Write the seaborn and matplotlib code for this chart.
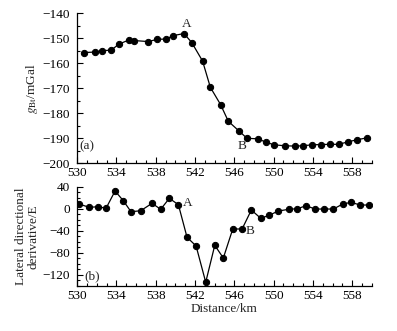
import matplotlib
matplotlib.use("Agg")
import matplotlib.pyplot as plt
import numpy as np
import pandas as pd
import seaborn as sns
from matplotlib.ticker import MultipleLocator

# Profile (a): Bouguer gravity anomaly
dist_a = [530.71, 531.80, 532.51, 533.49, 534.27, 535.26, 535.80, 537.25,
          538.17, 539.05, 539.80, 540.88, 541.67, 542.77, 543.56, 544.60,
          545.39, 546.51, 547.29, 548.38, 549.26, 550.04, 551.19, 552.18,
          552.96, 553.88, 554.79, 555.77, 556.62, 557.57, 558.45, 559.50]
grav_a = [-155.7, -155.5, -155.0, -154.7, -152.3, -150.7, -150.9, -151.3,
          -150.4, -150.3, -148.9, -148.1, -151.7, -159.1, -169.6, -176.5,
          -183.2, -187.2, -190.0, -190.2, -191.6, -192.6, -193.0, -193.1,
          -193.0, -192.6, -192.5, -192.4, -192.4, -191.4, -190.6, -189.8]

# Profile (b): lateral directional derivative
dist_b = [530.20, 531.25, 532.17, 532.95, 533.87, 534.71, 535.49, 536.48,
          537.63, 538.51, 539.39, 540.31, 541.19, 542.11, 543.09, 544.01,
          544.88, 545.84, 546.79, 547.73, 548.69, 549.53, 550.48, 551.54,
          552.41, 553.30, 554.21, 555.13, 556.07, 557.03, 557.87, 558.79,
          559.70]
deriv_b = [8.7, 2.7, 3.8, 0.9, 32.4, 14.7, -5.3, -3.5,
           10.0, -0.9, 19.1, 7.5, -51.8, -67.6, -133.5, -66.4,
           -89.5, -36.7, -36.7, -2.2, -17.3, -11.8, -4.0, -0.9,
           0.2, 5.6, -0.4, -0.4, -0.4, 8.7, 11.8, 6.9, 6.9]

x_ticks = [530, 534, 538, 542, 546, 550, 554, 558]

sns.set_style("ticks")
plt.rcParams["font.family"] = ["Liberation Serif", "DejaVu Serif"]
plt.rcParams["mathtext.fontset"] = "stix"
plt.rcParams["font.size"] = 9.5

fig = plt.figure(figsize=(3.97, 3.31), dpi=100)
ax1 = fig.add_axes([0.194, 0.5066, 0.743, 0.4532])
ax2 = fig.add_axes([0.194, 0.1366, 0.743, 0.299])

df_a = pd.DataFrame({"dist": dist_a, "val": grav_a})
df_b = pd.DataFrame({"dist": dist_b, "val": deriv_b})

for ax, df in [(ax1, df_a), (ax2, df_b)]:
    sns.lineplot(data=df, x="dist", y="val", ax=ax, color="black",
                 marker="o", markersize=4.5, markeredgecolor="black",
                 linewidth=0.9, sort=False)
    ax.set_xlim(530, 560)
    ax.set_xticks(x_ticks)
    ax.xaxis.set_minor_locator(MultipleLocator(1))
    ax.tick_params(which="both", direction="in", labelsize=9.5, width=0.8,
                   colors="black")
    ax.tick_params(axis="x", pad=3)
    ax.tick_params(axis="y", pad=5)
    ax.tick_params(which="major", length=4)
    ax.tick_params(which="minor", length=2)
    sns.despine(ax=ax)
    for s in ["left", "bottom"]:
        ax.spines[s].set_linewidth(0.9)
        ax.spines[s].set_color("black")
    ax.set_xlabel("")

ax1.set_ylim(-200, -140)
ax1.set_yticks([-200, -190, -180, -170, -160, -150, -140])
ax1.yaxis.set_minor_locator(MultipleLocator(5))
ax1.set_ylabel(r"$g_{\mathrm{Bt}}$/mGal", fontsize=9.5, labelpad=2)
ax1.text(541.2, -146.5, "A", fontsize=9.5, ha="center", va="bottom")
ax1.text(546.8, -193.2, "B", fontsize=9.5, ha="center", va="center")
ax1.text(530.2, -193.0, "(a)", fontsize=9.5, ha="left", va="center")

ax2.set_ylim(-140, 40)
ax2.set_yticks([-120, -80, -40, 0, 40])
ax2.yaxis.set_minor_locator(MultipleLocator(10))
ax2.set_ylabel("Lateral directional\nderivative/E", fontsize=9.5,
               labelpad=2, linespacing=1.05)
ax2.set_xlabel("Distance/km", fontsize=9.5, labelpad=1)
ax2.text(541.3, 10, "A", fontsize=9.5, ha="center", va="center")
ax2.text(547.6, -41, "B", fontsize=9.5, ha="center", va="center")
ax2.text(530.7, -122, "(b)", fontsize=9.5, ha="left", va="center")

fig.savefig("out.png", dpi=100)
